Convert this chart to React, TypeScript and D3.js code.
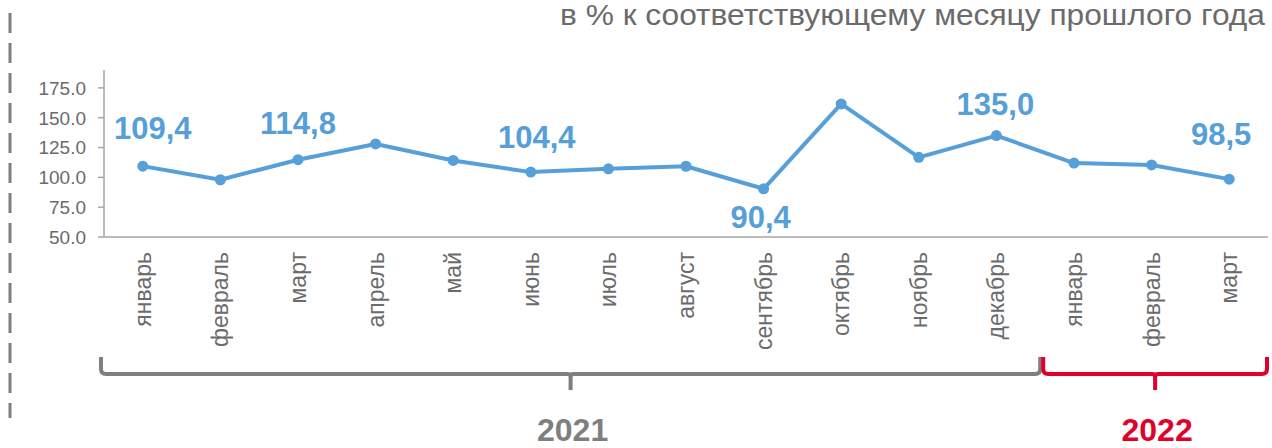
import React from "react";
import * as d3 from "d3";

const months = [
  "январь", "февраль", "март", "апрель", "май", "июнь", "июль", "август",
  "сентябрь", "октябрь", "ноябрь", "декабрь", "январь", "февраль", "март",
];
const values = [109.4, 98.0, 114.8, 128.0, 114.2, 104.4, 107.2, 109.3, 90.4, 161.6, 116.8, 135.0, 112.0, 110.4, 98.5];
const labelledIdx = [0, 2, 5, 8, 11, 14];
const labelText = ["109,4", "114,8", "104,4", "90,4", "135,0", "98,5"];
const yTicks = [50, 75, 100, 125, 150, 175];
const years = ["2021", "2022"];
const yearSpans = [[0, 12], [12, 15]];
const title = "в % к соответствующему месяцу прошлого года";

const W = 1272, H = 448;
const lineColor = "#569fd8";
const grayText = "#6b6b6b";
const axisColor = "#a6a6a6";
const yearColors = ["#7f7f7f", "#e2002b"];
const font = "'Liberation Sans', Arial, sans-serif";

// label offsets (dx, dy) relative to their point
const labelOffsets = [[10, -27], [0, -26], [6, -24], [-3, 39], [-1, -21], [-8, -34]];

export default function App() {
  const x = d3.scaleBand<number>().domain(d3.range(months.length)).range([104, 1268]);
  const y = d3.scaleLinear().domain([50, 190]).range([237, 70]);
  const cx = (i: number) => (x(i) as number) + x.bandwidth() / 2;
  const line = d3.line<number>().x((_, i) => cx(i)).y((d) => y(d));

  const braceTop = 357, braceY = 374, braceTip = 390, r = 5;
  const bracePath = (x0: number, x1: number) => {
    const m = (x0 + x1) / 2;
    return `M${x0},${braceTop} L${x0},${braceY - r} Q${x0},${braceY} ${x0 + r},${braceY} L${m - 3},${braceY} Q${m},${braceY} ${m},${braceY + 3} L${m},${braceTip} M${m},${braceY + 3} Q${m},${braceY} ${m + 3},${braceY} L${x1 - r},${braceY} Q${x1},${braceY} ${x1},${braceY - r} L${x1},${braceTop}`;
  };

  return (
    <svg width={W} height={H} style={{ position: "absolute", left: 0, top: 0, background: "#fff" }} fontFamily={font}>
      {/* dashed left line */}
      <line x1={10} x2={10} y1={13} y2={418} stroke="#7f7f7f" strokeWidth={3} strokeDasharray="20 10" />
      {/* title */}
      <text x={1265} y={25} textAnchor="end" fontSize={29} fill={grayText} textLength={705} lengthAdjust="spacingAndGlyphs">{title}</text>
      {/* y axis */}
      <line x1={104} x2={104} y1={70} y2={y(50)} stroke={axisColor} strokeWidth={1.5} />
      {yTicks.map((t) => (
        <g key={t}>
          <line x1={98} x2={104} y1={y(t)} y2={y(t)} stroke={axisColor} strokeWidth={1.5} />
          <text x={86} y={y(t)} dy="0.36em" textAnchor="end" fontSize={19} fill={grayText}>{t.toFixed(1)}</text>
        </g>
      ))}
      {/* x axis */}
      <line x1={104} x2={1268} y1={y(50)} y2={y(50)} stroke={axisColor} strokeWidth={1.5} />
      {months.map((m, i) => (
        <text key={i} transform={`translate(${cx(i)},252) rotate(-90)`} textAnchor="end" dominantBaseline="central" fontSize={23} fill={grayText}>{m}</text>
      ))}
      {/* line */}
      <path d={line(values) || ""} fill="none" stroke={lineColor} strokeWidth={4} strokeLinejoin="round" />
      {values.map((v, i) => (
        <circle key={i} cx={cx(i)} cy={y(v)} r={5.5} fill={lineColor} />
      ))}
      {labelledIdx.map((idx, k) => (
        <text key={k} x={cx(idx) + labelOffsets[k][0]} y={y(values[idx]) + labelOffsets[k][1]} textAnchor="middle" fontSize={31} fontWeight="bold" fill={lineColor}>{labelText[k]}</text>
      ))}
      {/* braces */}
      {yearSpans.map(([a, b], k) => {
        const x0 = k === 0 ? (x(a) as number) - 3 : (x(a) as number) + 8;
        const x1 = k === 0 ? (x(b) as number) + 5 : 1267;
        return (
          <g key={k}>
            <path d={bracePath(x0, x1)} fill="none" stroke={yearColors[k]} strokeWidth={4} />
            <text x={(x0 + x1) / 2 + 2} y={441} textAnchor="middle" fontSize={32} fontWeight="bold" fill={yearColors[k]}>{years[k]}</text>
          </g>
        );
      })}
    </svg>
  );
}
